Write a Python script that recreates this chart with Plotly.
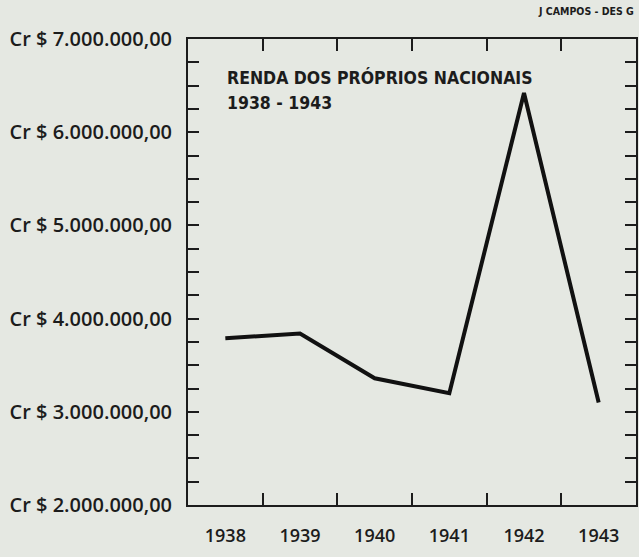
import plotly.graph_objects as go

years = ["1938", "1939", "1940", "1941", "1942", "1943"]
renda = [3790000, 3840000, 3360000, 3200000, 6420000, 3100000]
ytick_vals = [2000000, 3000000, 4000000, 5000000, 6000000, 7000000]
ytick_text = ["Cr $ 2.000.000,00", "Cr $ 3.000.000,00", "Cr $ 4.000.000,00",
              "Cr $ 5.000.000,00", "Cr $ 6.000.000,00", "Cr $ 7.000.000,00"]
title_lines = ["RENDA DOS PRÓPRIOS NACIONAIS", "1938 - 1943"]
credit = "J CAMPOS - DES G"

ink = "#1c1c1c"
bg = "#e5e8e2"
label_font = "Open Sans"

fig = go.Figure()
fig.add_trace(go.Scatter(
    x=years, y=renda, mode="lines",
    line=dict(color="#111111", width=4),
    hoverinfo="skip", showlegend=False,
))

fig.update_layout(
    width=639, height=557,
    margin=dict(l=188, r=3, t=39, b=52),
    paper_bgcolor=bg, plot_bgcolor=bg,
    font=dict(family=label_font, color=ink),
    xaxis=dict(
        type="category", range=[-0.5, 5.5], automargin=False,
        tickson="boundaries", ticks="inside", ticklen=12, tickwidth=1.6,
        tickcolor=ink, showline=True, linecolor=ink, linewidth=2,
        mirror="ticks", showgrid=False, zeroline=False,
        tickfont=dict(size=18, family=label_font, color=ink, weight=600),
        ticklabelstandoff=13,
    ),
    yaxis=dict(
        range=[2000000, 7000000], tickvals=ytick_vals, ticktext=ytick_text,
        automargin=False,
        ticks="inside", ticklen=11, tickwidth=1.6, tickcolor=ink,
        showline=True, linecolor=ink, linewidth=2, mirror="ticks",
        showgrid=False, zeroline=False,
        minor=dict(dtick=250000, tick0=2000000, ticks="inside", ticklen=11,
                   tickwidth=1.6, tickcolor=ink, showgrid=False),
        tickfont=dict(size=20, family=label_font, color=ink, weight=600),
        ticklabelstandoff=10,
    ),
    annotations=[
        dict(text=title_lines[0], xref="paper", yref="paper", x=0.0826, y=0.918,
             xanchor="left", yanchor="middle", showarrow=False,
             font=dict(family="DejaVu Sans Condensed", size=17.5, color=ink,
                       weight="bold")),
        dict(text=title_lines[1], xref="paper", yref="paper", x=0.0826, y=0.863,
             xanchor="left", yanchor="middle", showarrow=False,
             font=dict(family="DejaVu Sans Condensed", size=17.5, color=ink,
                       weight="bold")),
        dict(text=credit, xref="paper", yref="paper", x=1.0, y=1.060,
             xanchor="right", yanchor="middle", showarrow=False,
             font=dict(family="DejaVu Sans Condensed", size=10.5, color=ink,
                       weight="bold")),
    ],
)

fig.write_html("out.html", config={"displayModeBar": False},
               post_script="document.body.style.margin='0';")
